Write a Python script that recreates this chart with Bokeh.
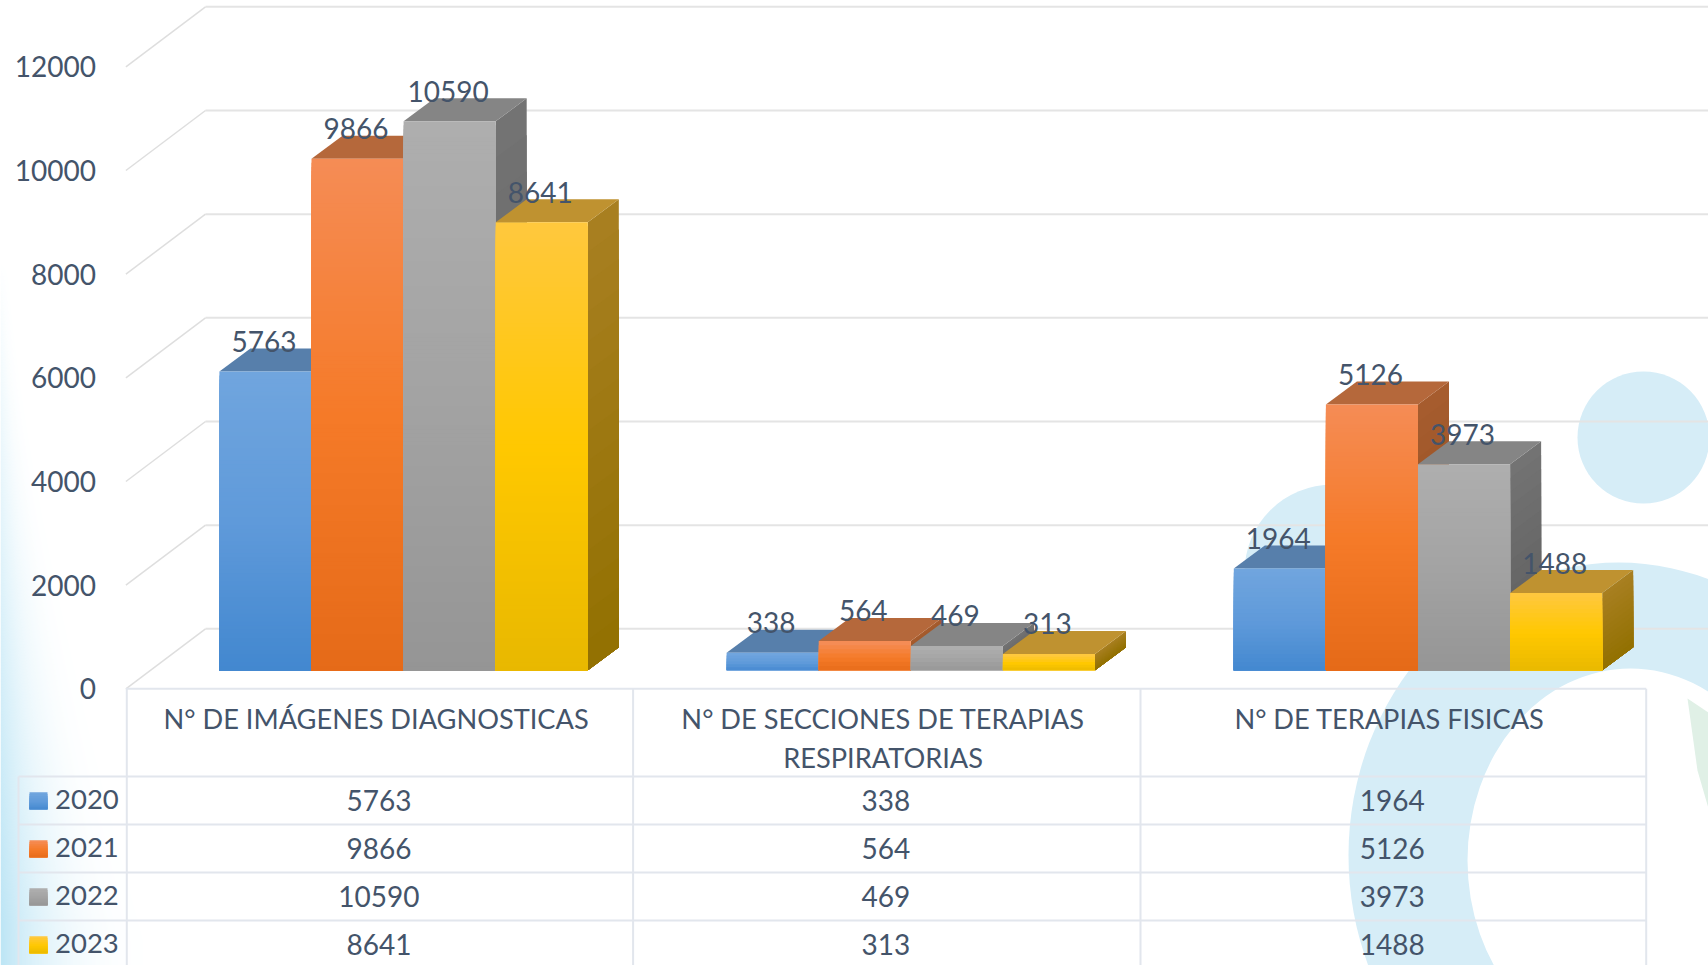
from bokeh.plotting import figure
from bokeh.embed import file_html
from bokeh.resources import INLINE
from bokeh.models import Range1d, LinearAxis, FixedTicker, ColumnDataSource
from bokeh.core.properties import value
import numpy as np

# ---- data ----
categories = ["N° DE IMÁGENES DIAGNOSTICAS", "N° DE SECCIONES DE TERAPIAS\nRESPIRATORIAS", "N° DE TERAPIAS FISICAS"]
years = ["2020", "2021", "2022", "2023"]
v2020 = [5763, 338, 1964]
v2021 = [9866, 564, 5126]
v2022 = [10590, 469, 3973]
v2023 = [8641, 313, 1488]
y_ticks = [0, 2000, 4000, 6000, 8000, 10000, 12000]
series = [v2020, v2021, v2022, v2023]

# ---- styles: front gradient stops, top face, side gradient ends ----
front_stops = [("#70A5DE", "#5F9ADA", "#4287CF"), ("#F58C55", "#F57A28", "#E56A18"),
               ("#AEAEAE", "#A3A3A3", "#959595"), ("#FFC83D", "#FFC800", "#E8B800")]
top_face = ["#577FAB", "#B5683B", "#858585", "#BF9230"]
side_stops = [("#4D6F96", "#35587F"), ("#A65C2E", "#8F4A1C"), ("#737373", "#5C5C5C"), ("#A87F20", "#917000")]
INK = "#44546A"
FONT = "Lato"
GRID = "#E4E4E4"
TABLE = "#E2E6ED"
WASH = "#D6EDF7"

# ---- layout (page pixels) ----
W, H = 1708, 965
K = 0.05183            # px per unit of value
Z_PX = 688.3           # pixel of value 0 on the front axis
AX_X, BACK_X = 125.4, 205.0
BACK_DY = 60.0
BAR_BASE = 669.7
BAR_X0, BAR_W, GROUP_STEP = 218.9, 92.1, 507.2
DEPTH_X, DEPTH_Y = 31.0, 23.0
COLS = [126.3, 632.6, 1140.0, 1645.7]
LEG_X = 18.0
ROWS = [688.3, 776.0, 824.0, 872.0, 920.0]


def v(px):
    return (Z_PX - px) / K


def hexmix(a, b, t):
    ca = [int(a[i:i + 2], 16) for i in (1, 3, 5)]
    cb = [int(b[i:i + 2], 16) for i in (1, 3, 5)]
    return "#%02x%02x%02x" % tuple(round(x + (y - x) * t) for x, y in zip(ca, cb))


def ramp(stops, t):
    if len(stops) == 2:
        return hexmix(stops[0], stops[1], t)
    return hexmix(stops[0], stops[1], t * 2) if t < .5 else hexmix(stops[1], stops[2], t * 2 - 1)


p = figure(width=W, height=H, x_range=Range1d(0, W), y_range=Range1d(v(H), v(0)),
           x_axis_location=None, y_axis_location=None, toolbar_location=None, output_backend="svg",
           min_border=0, outline_line_color=None, background_fill_color="white", border_fill_color="white")
p.grid.visible = False

# ---- background wash ----
gx, gy = np.meshgrid(np.arange(0, 260), np.arange(230, 965))
a_y = np.clip((gy - 260) / 660, 0, 1)
w_y = 18 + 160 * np.clip((gy - 300) / 640, 0, 1) ** 1.3
al = a_y ** 0.9 * np.clip(1 - gx / w_y, 0, 1) ** 3.0
img = np.zeros(al.shape, dtype=np.uint32)
view = img.view(dtype=np.uint8).reshape((*al.shape, 4))
view[..., 0], view[..., 1], view[..., 2] = 0xBD, 0xE5, 0xF5
view[..., 3] = (al * 255).astype(np.uint8)
p.image_rgba(image=[img[::-1]], x=0, y=v(965), dw=260, dh=v(230) - v(965))

p.circle(x=[1643], y=[v(437)], radius=66, radius_units="screen", fill_color=WASH, line_color=None)
p.circle(x=[1332], y=[v(572)], radius=88, radius_units="screen", fill_color=WASH, line_color=None)
p.ellipse(x=[1618], y=[v(855)], width=540, height=586, width_units="screen", height_units="screen",
          fill_color=WASH, line_color=None)
p.ellipse(x=[1630], y=[v(860)], width=326, height=384, width_units="screen", height_units="screen",
          fill_color="white", line_color=None)
p.patch(x=[1687, 1708, 1708, 1697], y=[v(698), v(712), v(808), v(770)], fill_color="#E0F0E6", line_color=None)

# ---- back wall and left wall gridlines ----
p.segment(x0=[BACK_X] * len(y_ticks), y0=[t + BACK_DY / K for t in y_ticks],
          x1=[W] * len(y_ticks), y1=[t + BACK_DY / K for t in y_ticks], line_color=GRID, line_width=2)
p.segment(x0=[AX_X] * len(y_ticks), y0=y_ticks,
          x1=[BACK_X] * len(y_ticks), y1=[t + BACK_DY / K for t in y_ticks], line_color="#DEDEDE", line_width=1.5)

# ---- 3D bars ----
base = v(BAR_BASE)
dxv, dyv = DEPTH_X, DEPTH_Y / K
for g in range(3):
    gx0 = BAR_X0 + g * GROUP_STEP
    for s, vals in enumerate(series):
        x0 = gx0 + s * BAR_W
        x1 = x0 + BAR_W
        top = base + vals[g]
        # side face, nested from full height down so that no seams show
        xs, ys, cs = [], [], []
        for i in range(16):
            t = i / 15
            lev = top - (top - base) * t
            xs.append([x1, x1 + dxv, x1 + dxv, x1])
            ys.append([base, base + dyv, lev + dyv, lev])
            cs.append(ramp(side_stops[s], t))
        p.patches(xs=xs, ys=ys, fill_color=cs, line_color=None)
        # top face
        p.patch(x=[x0, x1, x1 + dxv, x0 + dxv], y=[top, top, top + dyv, top + dyv],
                fill_color=top_face[s], line_color=None)
        # front face
        n = max(6, int(vals[g] * K / 4))
        tt = np.linspace(0, 1, n, endpoint=False)
        src = ColumnDataSource(dict(left=[x0] * n, right=[x1] * n, bottom=[base] * n,
                                    top=[top - (top - base) * t for t in tt],
                                    c=[ramp(front_stops[s], float(t)) for t in tt]))
        p.quad(left="left", right="right", bottom="bottom", top="top", fill_color="c", line_color=None, source=src)

# ---- data labels ----
lx, ly, lt = [], [], []
for g in range(3):
    for s, vals in enumerate(series):
        lx.append(BAR_X0 + g * GROUP_STEP + (s + .5) * BAR_W - 1.5)
        ly.append(base + vals[g] + 30 / K)
        lt.append(str(vals[g]))
p.text(x=lx, y=ly, text=lt, text_font=value(FONT), text_font_size=value("28px"), text_color=INK,
       text_align="center", text_baseline="middle")

# ---- data table ----
p.segment(x0=[c for c in COLS], y0=[v(688.3)] * 4, x1=[c for c in COLS], y1=[v(H)] * 4, line_color=TABLE, line_width=2)
p.segment(x0=[LEG_X], y0=[v(776)], x1=[LEG_X], y1=[v(H)], line_color=TABLE, line_width=2)
p.segment(x0=[AX_X] + [LEG_X] * 4, y0=[v(r) for r in ROWS], x1=[COLS[-1]] * 5, y1=[v(r) for r in ROWS],
          line_color=TABLE, line_width=2)

head_x = [375.6, 882.6, 1389.0]
for hx, cat in zip(head_x, categories):
    for j, line in enumerate(cat.split("\n")):
        p.text(x=[hx], y=[v(718.3 + j * 38.7)], text=[line], text_font=value(FONT), text_font_size=value("27.2px"),
               text_color=INK, text_align="center", text_baseline="middle")

centers = [(COLS[i] + COLS[i + 1]) / 2 - 1 for i in range(3)]
for r, (yr, vals) in enumerate(zip(years, series)):
    yc = 800 + r * 48
    p.text(x=[54.5], y=[v(yc - 1.5)], text=[yr], text_font=value(FONT), text_font_size=value("27.5px"), text_color=INK,
           text_align="left", text_baseline="middle")
    p.text(x=centers, y=[v(yc - 0.5)] * 3, text=[str(n) for n in vals], text_font=value(FONT),
           text_font_size=value("28px"), text_color=INK, text_align="center", text_baseline="middle")
    tt = np.linspace(0, 1, 9, endpoint=False)
    y0 = yc - 8.3
    p.quad(left=[29] * 9, right=[47] * 9, bottom=[v(y0 + 17)] * 9,
           top=[v(y0 + 17 * t) for t in tt], fill_color=[ramp(front_stops[r], float(t)) for t in tt], line_color=None)

# ---- value axis, placed at the front left corner of the chart ----
ax = LinearAxis(fixed_location=AX_X, ticker=FixedTicker(ticks=y_ticks), axis_line_color=None,
                major_tick_line_color=None, minor_tick_line_color=None,
                major_label_standoff=24, major_label_text_font=FONT, major_label_text_font_size="28px",
                major_label_text_color=INK)
p.add_layout(ax, "left")

open("out.html", "w").write(file_html(p, INLINE))
